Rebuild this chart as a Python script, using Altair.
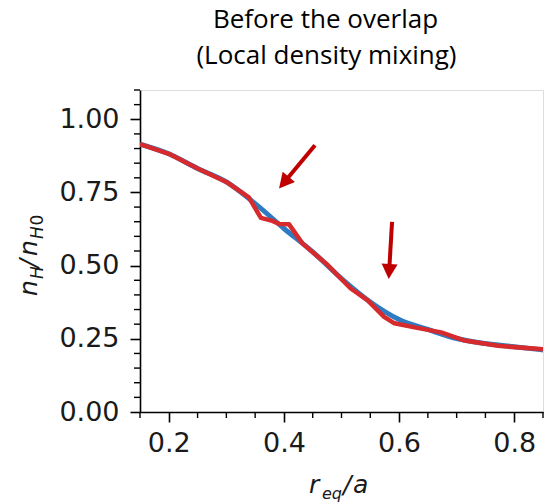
import altair as alt
import pandas as pd

# ---- data ----
blue_x = [0.15, 0.20, 0.25, 0.30, 0.35, 0.40, 0.45, 0.50, 0.55, 0.60, 0.65, 0.70, 0.75, 0.80, 0.85]
blue_y = [0.915, 0.882, 0.832, 0.786, 0.712, 0.627, 0.547, 0.456, 0.376, 0.316, 0.282, 0.251, 0.234, 0.223, 0.212]

red_x = [0.15, 0.20, 0.25, 0.30, 0.339, 0.36, 0.38, 0.392, 0.409, 0.432, 0.476, 0.516, 0.545, 0.574,
         0.592, 0.627, 0.673, 0.714, 0.772, 0.85]
red_y = [0.915, 0.882, 0.832, 0.786, 0.733, 0.663, 0.653, 0.642, 0.641, 0.576, 0.502, 0.422, 0.382, 0.325,
         0.303, 0.289, 0.272, 0.244, 0.226, 0.214]

# arrows (tail, shaft end, tip) in data units
arrow_tail_x = [0.454, 0.5878]
arrow_tail_y = [0.911, 0.6495]
arrow_base_x = [0.407, 0.5834]
arrow_base_y = [0.800, 0.5017]
arrow_tip_x = [0.3915, 0.582]
arrow_tip_y = [0.7635, 0.454]
arrow_angle = [220, 183.3]

x_major = [0.2, 0.4, 0.6, 0.8]
x_minor = [0.15, 0.25, 0.30, 0.35, 0.45, 0.50, 0.55, 0.65, 0.70, 0.75, 0.85]
y_major = [0.0, 0.25, 0.5, 0.75, 1.0]
y_minor = [0.05, 0.10, 0.15, 0.20, 0.30, 0.35, 0.40, 0.45, 0.55, 0.60, 0.65, 0.70,
           0.80, 0.85, 0.90, 0.95, 1.05, 1.10]

title_lines = ["Before the overlap", "(Local density mixing)"]

# ---- layout ----
W, H = 403, 322
xs = alt.Scale(domain=[0.15, 0.85], nice=False, zero=False)
ys = alt.Scale(domain=[0.0, 1.1], nice=False, zero=False)

BLUE = "#2f7bc2"
RED = "#d62a2c"
DARK = "#c00000"

blue_df = pd.DataFrame({"x": blue_x, "y": blue_y})
red_df = pd.DataFrame({"x": red_x, "y": red_y})

axis_common = dict(grid=False, domainColor="black", domainWidth=1.6, tickColor="black",
                   tickWidth=1.6, tickSize=10, labelFontSize=27, labelFont="DejaVu Sans",
                   labelColor="#1a1a1a", title=None)

blue = alt.Chart(blue_df).mark_line(color=BLUE, strokeWidth=5, interpolate="monotone", clip=True).encode(
    x=alt.X("x:Q", scale=xs, axis=alt.Axis(values=x_major, format=".1f", labelPadding=8, **axis_common)),
    y=alt.Y("y:Q", scale=ys, axis=alt.Axis(values=y_major, format=".2f", labelPadding=11, **axis_common)),
)
red = alt.Chart(red_df).mark_line(color=RED, strokeWidth=4.5, clip=True, strokeJoin="round").encode(
    x=alt.X("x:Q", scale=xs), y=alt.Y("y:Q", scale=ys)
)

xmin_df = pd.DataFrame({"v": x_minor})
ymin_df = pd.DataFrame({"v": y_minor})
xminor = alt.Chart(xmin_df).mark_rule(color="black", strokeWidth=1.4).encode(
    x=alt.X("v:Q", scale=xs), y=alt.value(H), y2=alt.value(H + 6)
)
yminor = alt.Chart(ymin_df).mark_rule(color="black", strokeWidth=1.4).encode(
    y=alt.Y("v:Q", scale=ys), x=alt.value(0), x2=alt.value(-6)
)

arr_df = pd.DataFrame({"tx": arrow_tail_x, "ty": arrow_tail_y, "bx": arrow_base_x, "by": arrow_base_y,
                       "px": arrow_tip_x, "py": arrow_tip_y, "ang": arrow_angle})
shafts = alt.Chart(arr_df).mark_rule(color=DARK, strokeWidth=4).encode(
    x=alt.X("tx:Q", scale=xs), y=alt.Y("ty:Q", scale=ys), x2="bx:Q", y2="by:Q"
)
heads = alt.Chart(arr_df).mark_point(shape="M0,0L-1,1.9L1,1.9Z", filled=True, color=DARK, opacity=1,
                                     size=256, strokeWidth=0).encode(
    x=alt.X("px:Q", scale=xs), y=alt.Y("py:Q", scale=ys), angle=alt.Angle("ang:Q", scale=None)
)


def txt(s, x, y, size, style="normal", angle=0, font="DejaVu Sans", align="left", color="#1a1a1a"):
    return alt.Chart(pd.DataFrame({"t": [s]})).mark_text(
        fontSize=size, fontStyle=style, angle=angle, font=font, align=align,
        baseline="alphabetic", color=color
    ).encode(text="t:N", x=alt.value(x), y=alt.value(y))


MS, SS = 25, 17
labels = [
    # y label n_H / n_H0 (rotated)
    txt("n", -103, 206, MS, "italic", 270),
    txt("H", -97, 189, SS, "italic", 270),
    txt("/", -103, 177.5, MS, "italic", 270),
    txt("n", -103, 166, MS, "italic", 270),
    txt("H", -97, 149, SS, "italic", 270),
    txt("0", -97, 135.5, SS, "normal", 270),
    # x label r_eq / a
    txt("r", 169, 403.3, MS, "italic"),
    txt("eq", 182, 408.5, 16, "italic"),
    txt("/", 203, 403.3, MS, "italic"),
    txt("a", 213, 403.3, MS, "italic"),
    # title
    txt(title_lines[0], 185.5, -62, 26, "normal", 0, "Open Sans", "center", "black"),
    txt(title_lines[1], 186.5, -26, 26, "normal", 0, "Open Sans", "center", "black"),
]

chart = alt.layer(blue, red, xminor, yminor, shafts, heads, *labels).properties(
    width=W, height=H,
    autosize=alt.AutoSizeParams(type="none"),
    padding={"left": 140, "top": 90, "right": 4, "bottom": 91},
).configure_view(stroke="black", strokeWidth=1.6).configure(background="white")

chart.save("out.html", embed_options={"renderer": "svg", "actions": False})
